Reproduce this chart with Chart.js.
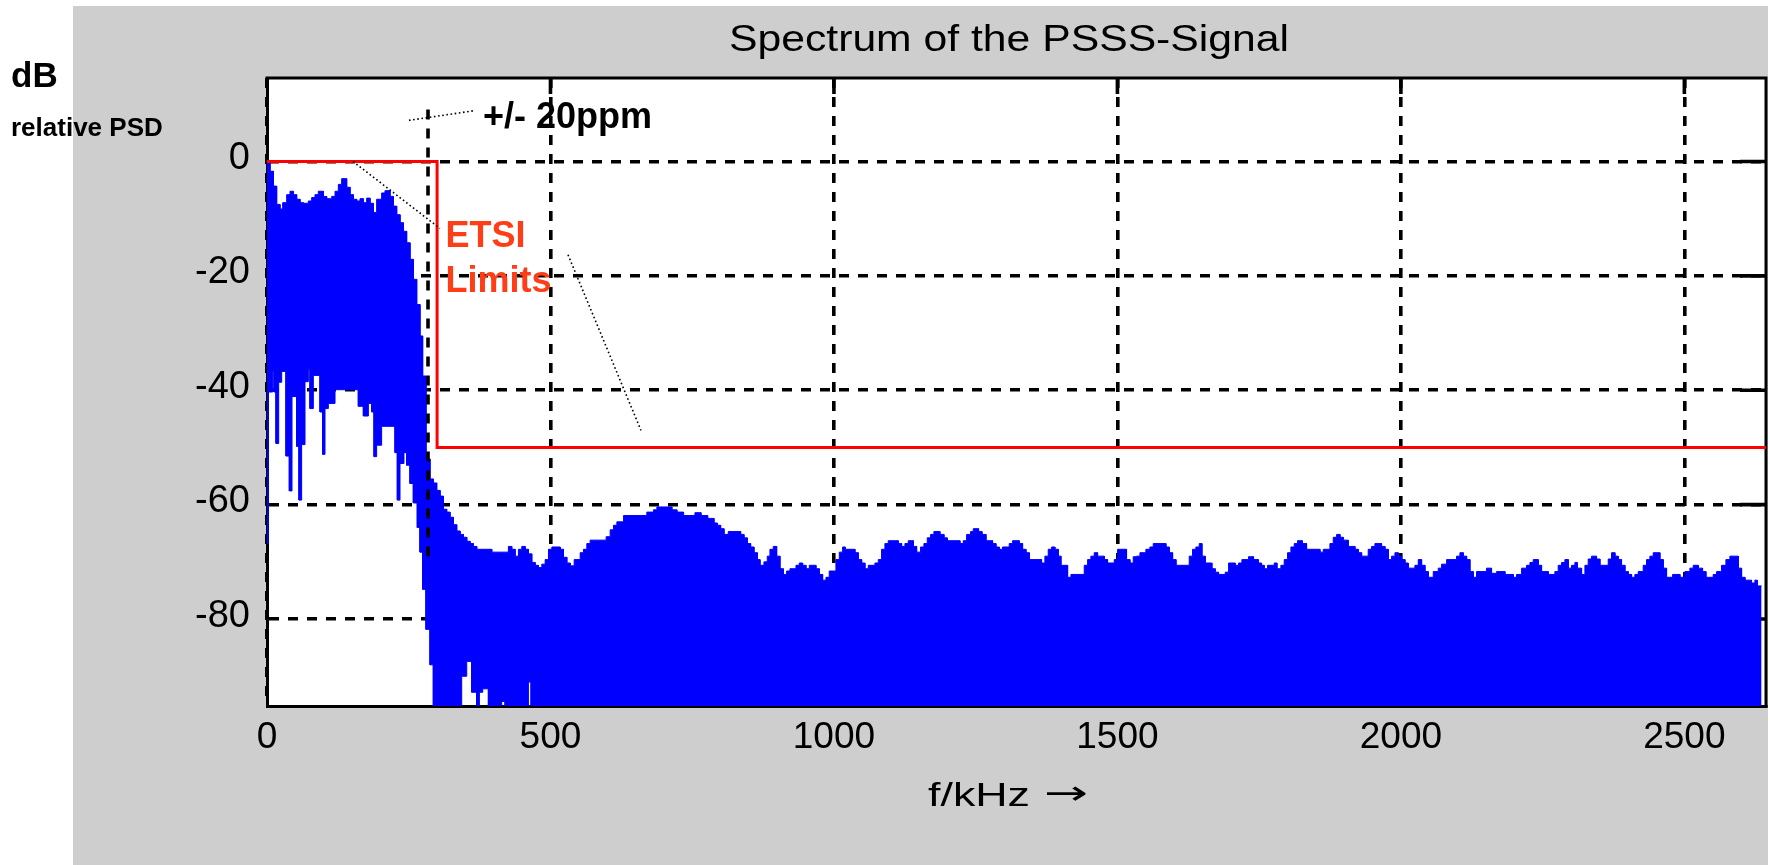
<!DOCTYPE html>
<html>
<head>
<meta charset="utf-8">
<title>Spectrum of the PSSS-Signal</title>
<script src="https://cdn.jsdelivr.net/npm/chart.js@4.4.1/dist/chart.umd.min.js"></script>
<style>
  html, body { margin: 0; padding: 0; background: #ffffff; }
  canvas { display: block; }
</style>
</head>
<body>
<canvas id="psd" width="1770" height="865"></canvas>
<script>
// ---- axes ----
const xTickValues = [0, 500, 1000, 1500, 2000, 2500];
const yTickValues = [0, -20, -40, -60, -80];
const xRange = [0, 2644];
const yRange = [-95.2, 14.6];

// ---- upper envelope of the measured PSD (kHz, dB); each level holds until the next frequency ----
const upperFreq = [
  0, 5.3, 11.2, 17.0, 22.9, 27.6, 34.7, 40.6, 46.4, 52.3, 58.2, 64.1, 72.9, 78.8, 84.6, 90.5,
  99.3, 105.2, 114.1, 120.0, 125.8, 131.7, 140.5, 146.4, 152.3, 158.2, 164.0, 169.9, 175.8, 181.7,
  187.6, 193.4, 202.2, 208.1, 216.9, 222.8, 228.7, 234.6, 240.4, 246.3, 252.2, 258.1, 264.0, 269.8,
  274.5, 280.4, 287.5, 293.4, 299.3, 305.2, 311.1, 316.9, 322.8, 328.7, 334.6, 340.5, 346.4, 352.3,
  358.2, 364.0, 369.9, 396.4, 425.8, 431.7, 437.6, 443.5, 449.4, 455.3, 461.1, 467.0, 472.9, 478.8,
  484.7, 490.6, 496.5, 502.4, 517.1, 523.0, 528.8, 534.7, 541.8, 552.4, 558.2, 564.1, 570.0, 598.2,
  605.3, 611.2, 617.1, 628.9, 670.0, 681.8, 687.7, 714.1, 722.9, 734.7, 746.0, 754.8, 765.4, 777.2,
  788.3, 794.2, 800.1, 806.0, 813.6, 835.4, 841.2, 847.1, 853.0, 858.9, 864.8, 869.5, 876.5, 882.4,
  887.1, 893.0, 898.9, 904.7, 910.6, 916.5, 922.4, 933.0, 938.8, 944.7, 950.6, 956.5, 968.2, 974.1,
  980.0, 985.9, 991.7, 1003.5, 1009.4, 1015.3, 1020.0, 1037.0, 1042.9, 1048.8, 1054.6, 1060.5, 1072.3,
  1078.2, 1084.0, 1089.9, 1095.8, 1113.4, 1119.3, 1125.2, 1131.1, 1139.9, 1145.8, 1152.8, 1158.7,
  1164.6, 1170.5, 1176.3, 1186.9, 1194.0, 1199.9, 1222.2, 1228.1, 1234.0, 1241.0, 1245.7, 1255.1,
  1261.0, 1268.1, 1279.8, 1285.7, 1291.6, 1297.4, 1309.2, 1315.1, 1326.8, 1332.7, 1338.6, 1344.5,
  1366.2, 1372.1, 1378.0, 1383.9, 1389.7, 1395.6, 1400.3, 1412.1, 1418.0, 1441.5, 1447.4, 1453.2,
  1459.1, 1465.0, 1476.7, 1482.6, 1494.4, 1500.3, 1516.1, 1522.0, 1527.9, 1533.8, 1539.7, 1550.2,
  1557.3, 1563.2, 1585.5, 1591.4, 1597.3, 1603.2, 1626.7, 1632.5, 1638.4, 1644.3, 1649.0, 1654.9,
  1666.6, 1672.5, 1678.4, 1690.2, 1696.1, 1707.8, 1713.7, 1719.6, 1731.3, 1740.1, 1748.4, 1754.2,
  1758.9, 1764.8, 1776.6, 1781.3, 1788.3, 1794.2, 1800.1, 1806.0, 1811.9, 1817.7, 1826.0, 1833.6,
  1857.2, 1863.1, 1874.8, 1880.7, 1886.6, 1892.5, 1898.3, 1907.1, 1918.9, 1924.8, 1930.7, 1942.4,
  1948.3, 1954.2, 1965.9, 1971.8, 1977.7, 1983.6, 1989.5, 1995.3, 2001.2, 2007.1, 2013.0, 2024.7,
  2030.6, 2036.5, 2042.4, 2048.2, 2057.1, 2065.9, 2071.8, 2080.6, 2098.2, 2104.1, 2110.0, 2115.9,
  2121.7, 2127.6, 2133.5, 2151.1, 2159.9, 2168.8, 2183.5, 2198.2, 2204.0, 2212.9, 2221.7, 2227.6,
  2233.4, 2242.2, 2248.1, 2259.9, 2271.6, 2277.5, 2283.4, 2289.3, 2295.2, 2301.0, 2306.9, 2311.0,
  2318.7, 2324.6, 2330.4, 2336.3, 2345.1, 2351.0, 2365.7, 2371.6, 2377.5, 2383.3, 2389.2, 2395.1,
  2401.0, 2406.9, 2412.7, 2418.6, 2427.4, 2433.3, 2439.2, 2445.1, 2456.8, 2462.7, 2468.6, 2479.2,
  2492.1, 2500.9, 2509.7, 2515.6, 2524.5, 2532.1, 2538.0, 2550.9, 2556.8, 2565.6, 2573.3, 2580.3,
  2595.0, 2600.9, 2606.8, 2618.5, 2624.4, 2628.5, 2636.2
];
const upperLevel = [
  -0.2, -1.7, -4.3, -7.5, -8.3, -7.2, -5.8, -5.2, -5.8, -6.6, -7.2, -7.3, -6.9, -6.3, -5.8, -5.2,
  -6.1, -6.5, -6.1, -5.2, -4.0, -3.0, -4.5, -5.8, -6.6, -6.9, -6.5, -7.2, -6.4, -7.3,
  -8.9, -6.6, -5.5, -5.1, -6.1, -7.8, -9.3, -10.7, -12.2, -14.2, -17.1, -20.6, -25.0, -30.5,
  -37.5, -52.0, -55.5, -56.2, -57.5, -58.5, -60.8, -61.3, -62.2, -63.5, -64.6, -65.2, -65.7, -66.4,
  -66.8, -67.3, -67.8, -68.3, -67.3, -67.8, -69.0, -67.8, -67.3, -67.8, -68.6, -70.1, -70.6, -71.0,
  -70.4, -69.6, -67.8, -67.4, -67.8, -69.2, -70.2, -70.7, -69.6, -68.4, -67.8, -66.8, -66.2, -65.6,
  -64.4, -63.6, -63.0, -61.9, -61.3, -60.9, -60.4, -60.9, -61.3, -61.9, -61.9, -61.4, -61.9, -62.4,
  -63.2, -63.6, -64.2, -65.2, -64.7, -65.2, -65.8, -66.8, -67.4, -68.4, -69.6, -70.6, -70.0, -69.0,
  -67.8, -67.3, -69.0, -71.2, -72.2, -71.6, -71.2, -70.6, -70.2, -70.6, -71.2, -70.6, -71.2, -72.2,
  -73.2, -72.7, -71.6, -69.6, -68.3, -67.4, -67.8, -68.4, -69.6, -70.2, -71.2, -70.6, -70.2,
  -69.6, -67.8, -66.8, -66.3, -66.8, -67.3, -66.8, -66.3, -67.3, -68.3, -67.4, -66.8,
  -65.8, -65.2, -64.7, -65.2, -65.8, -66.3, -66.8, -66.3, -65.2, -64.7, -64.2, -64.7,
  -65.2, -66.3, -66.8, -67.4, -67.8, -67.4, -66.8, -66.3, -66.8, -67.8, -68.4, -69.6,
  -70.2, -69.0, -67.8, -67.4, -67.8, -69.0, -70.6, -72.7, -72.2, -70.6, -69.6, -69.0,
  -68.4, -69.0, -69.6, -70.2, -69.6, -67.8, -69.6, -70.2, -69.1, -69.0, -68.4, -67.8,
  -67.4, -66.8, -67.4, -68.4, -69.6, -70.6, -69.0, -67.8, -67.4, -66.8, -69.0, -70.2,
  -71.2, -71.8, -72.2, -71.8, -70.2, -70.6, -70.2, -69.6, -69.1, -69.6, -70.2, -70.6,
  -71.2, -70.6, -70.2, -71.2, -70.6, -69.6, -68.4, -67.4, -66.8, -66.3, -66.8, -67.8,
  -68.3, -67.8, -66.8, -65.7, -65.2, -65.7, -66.2, -67.3, -67.8, -68.4, -69.0, -67.8,
  -67.3, -66.8, -67.3, -67.8, -69.6, -69.0, -68.4, -69.0, -69.6, -70.2, -71.1, -70.6,
  -69.6, -70.6, -71.7, -72.7, -71.7, -71.1, -70.4, -69.6, -69.0, -68.4, -69.0, -69.6,
  -71.7, -72.7, -71.7, -71.1, -72.0, -71.7, -72.2, -72.7, -72.2, -71.1, -70.6, -70.1,
  -69.6, -70.6, -71.7, -72.2, -71.7, -70.6, -70.1, -69.6, -71.1, -70.6, -70.1, -71.1,
  -72.2, -70.6, -69.5, -69.0, -69.5, -70.6, -69.5, -68.4, -69.0, -69.6, -70.6, -71.7,
  -72.2, -72.7, -72.2, -71.7, -70.6, -69.6, -69.0, -68.4, -69.6, -71.1, -72.7, -72.2,
  -72.7, -71.7, -71.1, -70.6, -71.1, -71.7, -72.7, -72.2, -71.7, -70.6, -69.6, -69.0,
  -71.1, -72.7, -73.2, -73.7, -73.2, -74.2, -74.2
];

// ---- lower envelope of the measured PSD (kHz, dB); -100 lies below the plotted floor ----
const lowerFreq = [
  0, 2.4, 10.0, 12.4, 15.9, 20.6, 25.9, 33.5, 39.4, 44.1, 52.3, 56.4, 61.1, 67.0, 72.9, 75.8,
  81.7, 93.5, 98.2, 102.3, 108.2, 120.0, 161.1, 170.0, 178.8, 184.7, 188.8, 193.4, 202.2, 225.8,
  229.9, 234.6, 241.6, 246.3, 252.2, 258.1, 265.1, 269.8, 274.5, 280.4, 287.5, 293.4, 343.4, 352.3,
  361.1, 369.9, 374.6, 380.5, 390.5, 414.0, 419.9, 461.1, 465.8, 2636.2
];
const lowerLevel = [
  -66.8, -40.3, -36.7, -40.3, -49.3, -38.6, -36.7, -51.5, -57.6, -41.1, -49.8, -59.2, -49.5, -38.5, -36.4, -43.2,
  -37.4, -43.8, -51.2, -43.2, -42.3, -39.9, -42.8, -44.5, -42.3, -43.8, -51.6, -49.6, -46.3, -50.9,
  -59.2, -52.8, -50.9, -53.1, -56.3, -59.7, -64.0, -68.3, -74.8, -81.8, -88.0, -100, -90.0, -87.4,
  -92.8, -100, -92.8, -92.2, -100, -94.4, -100, -91.0, -100, -100
];

// ---- ETSI spectrum mask (kHz, dB) ----
const maskFreq = [0, 300, 300, 2644];
const maskLevel = [0, 0, -50, -50];

// ---- +/- 20 ppm marker (kHz) and its vertical extent (dB) ----
const ppmFreq = 284;
const ppmExtent = [9.1, -69];

// ---- annotation leaders, as [kHz, dB] start and end ----
const leaders = [
  [[250.4, 7.2], [366.8, 8.9]],
  [[151.7, 0.0], [305.0, -11.7]],
  [[530.9, -16.3], [659.6, -47.0]]
];

const toPoints = (xs, ys) => xs.map((x, i) => ({ x, y: ys[i] }));

// sample-and-hold outline: each level is held up to the next frequency
const toSteps = (xs, ys) => {
  const pts = [];
  xs.forEach((x, i) => {
    pts.push({ x, y: ys[i] });
    if (i + 1 < xs.length) pts.push({ x: xs[i + 1], y: ys[i] });
  });
  return pts;
};

Chart.defaults.font.family = "'Liberation Sans', Arial, sans-serif";
Chart.defaults.color = '#000000';

const TEXT_BOLD = "bold 36px 'Liberation Sans', Arial, sans-serif";

// draws one line of text squeezed/stretched horizontally to a given width
function fitText(ctx, text, left, baseline, width, font, color) {
  ctx.save();
  ctx.font = font;
  ctx.fillStyle = color;
  ctx.textAlign = 'left';
  ctx.textBaseline = 'alphabetic';
  const w = ctx.measureText(text).width;
  ctx.translate(left, baseline);
  ctx.scale(width / w, 1);
  ctx.fillText(text, 0, 0);
  ctx.restore();
}

const decorations = {
  id: 'decorations',
  beforeDraw(chart) {
    const { ctx, chartArea: a } = chart;
    ctx.save();
    ctx.fillStyle = '#ffffff';
    ctx.fillRect(0, 0, chart.width, chart.height);
    ctx.fillStyle = '#cecece';
    ctx.fillRect(73, 6, 1695, chart.height - 6);
    ctx.fillStyle = '#ffffff';
    ctx.fillRect(a.left, a.top, a.right - a.left, a.bottom - a.top);
    ctx.restore();
  },
  beforeDatasetsDraw(chart) {
    const { ctx, chartArea: a, scales: { x, y } } = chart;
    ctx.save();
    ctx.strokeStyle = '#000000';
    // top and right edges of the box
    ctx.lineWidth = 3;
    ctx.beginPath();
    ctx.moveTo(a.left - 1.5, a.top);
    ctx.lineTo(a.right, a.top);
    ctx.lineTo(a.right, a.bottom + 1.5);
    ctx.stroke();
    // inward tick marks on the top and right edges
    ctx.lineWidth = 3.6;
    ctx.beginPath();
    xTickValues.forEach(v => {
      const px = x.getPixelForValue(v);
      if (px > a.left + 3) { ctx.moveTo(px, a.top); ctx.lineTo(px, a.top + 16); }
    });
    yTickValues.forEach(v => {
      const py = y.getPixelForValue(v);
      ctx.moveTo(a.right, py); ctx.lineTo(a.right - 26, py);
    });
    ctx.stroke();
    ctx.restore();
  },
  afterDatasetsDraw(chart) {
    const { ctx, scales: { x, y } } = chart;
    ctx.save();
    // +/- 20 ppm marker
    ctx.strokeStyle = '#000000';
    ctx.lineWidth = 3.6;
    ctx.setLineDash([10, 9]);
    ctx.beginPath();
    ctx.moveTo(x.getPixelForValue(ppmFreq), y.getPixelForValue(ppmExtent[0]));
    ctx.lineTo(x.getPixelForValue(ppmFreq), y.getPixelForValue(ppmExtent[1]));
    ctx.stroke();
    // dotted leaders
    ctx.lineWidth = 1.6;
    ctx.setLineDash([1.6, 2.6]);
    leaders.forEach(([p, q]) => {
      ctx.beginPath();
      ctx.moveTo(x.getPixelForValue(p[0]), y.getPixelForValue(p[1]));
      ctx.lineTo(x.getPixelForValue(q[0]), y.getPixelForValue(q[1]));
      ctx.stroke();
    });
    ctx.setLineDash([]);
    // callouts
    ctx.font = TEXT_BOLD;
    ctx.textAlign = 'left';
    ctx.textBaseline = 'alphabetic';
    ctx.fillStyle = '#000000';
    ctx.fillText('+/- 20ppm', x.getPixelForValue(381), y.getPixelForValue(5.85));
    ctx.fillStyle = '#ff3d17';
    ctx.fillText('ETSI', x.getPixelForValue(315), y.getPixelForValue(-15.0));
    ctx.fillText('Limits', x.getPixelForValue(315), y.getPixelForValue(-22.85));
    ctx.restore();
  },
  afterDraw(chart) {
    const { ctx, chartArea: a } = chart;
    // title above the plot
    fitText(ctx, 'Spectrum of the PSSS-Signal', a.left + 462, 51, 560,
      "37px 'Liberation Sans', Arial, sans-serif", '#000000');
    // frequency axis caption: unit, then arrow
    fitText(ctx, 'f/kHz', a.left + 661, a.bottom + 100, 102,
      "33px 'Liberation Sans', Arial, sans-serif", '#000000');
    fitText(ctx, '\u2192', a.left + 777, a.bottom + 98, 44,
      "33px 'DejaVu Sans', sans-serif", '#000000');
    // level axis caption, left of the panel
    ctx.save();
    ctx.fillStyle = '#000000';
    ctx.textAlign = 'left';
    ctx.textBaseline = 'alphabetic';
    ctx.font = "bold 35px 'Liberation Sans', Arial, sans-serif";
    ctx.fillText('dB', 11, 87);
    ctx.font = "bold 26px 'Liberation Sans', Arial, sans-serif";
    ctx.fillText('relative PSD', 11, 136);
    ctx.restore();
  }
};

const gridStyle = { color: '#000000', lineWidth: 3.6, drawTicks: false };
const borderStyle = { display: true, color: '#000000', width: 3, dash: [10, 9] };

new Chart(document.getElementById('psd'), {
  type: 'line',
  data: {
    datasets: [
      {
        label: 'ETSI Limits',
        data: toPoints(maskFreq, maskLevel),
        borderColor: '#ff0000',
        borderWidth: 3,
        pointRadius: 0,
        fill: false,
        tension: 0
      },
      {
        label: 'PSD upper',
        data: toSteps(upperFreq, upperLevel),
        borderColor: '#0000ff',
        backgroundColor: '#0000ff',
        borderWidth: 1,
        pointRadius: 0,
        tension: 0,
        fill: '+1'
      },
      {
        label: 'PSD lower',
        data: toSteps(lowerFreq, lowerLevel),
        borderColor: '#0000ff',
        backgroundColor: '#0000ff',
        borderWidth: 1,
        pointRadius: 0,
        tension: 0,
        fill: false
      }
    ]
  },
  options: {
    responsive: false,
    animation: false,
    events: [],
    layout: { padding: { top: 78, right: 4, bottom: 0, left: 0 } },
    plugins: {
      legend: { display: false },
      title: { display: false },
      tooltip: { enabled: false }
    },
    scales: {
      x: {
        type: 'linear',
        min: xRange[0],
        max: xRange[1],
        afterBuildTicks: s => { s.ticks = xTickValues.map(v => ({ value: v })); },
        afterFit: s => { s.height = 159; },
        ticks: {
          font: { size: 37, lineHeight: 1 },
          padding: 13,
          maxRotation: 0,
          autoSkip: false,
          callback: v => String(v)
        },
        grid: gridStyle,
        border: borderStyle
      },
      y: {
        type: 'linear',
        min: yRange[0],
        max: yRange[1],
        afterBuildTicks: s => { s.ticks = yTickValues.map(v => ({ value: v })); },
        afterFit: s => { s.width = 267; },
        ticks: {
          font: { size: 38, lineHeight: 1 },
          padding: 17,
          labelOffset: -3,
          autoSkip: false,
          callback: v => String(v)
        },
        grid: gridStyle,
        border: borderStyle
      }
    }
  },
  plugins: [decorations]
});
</script>
</body>
</html>
